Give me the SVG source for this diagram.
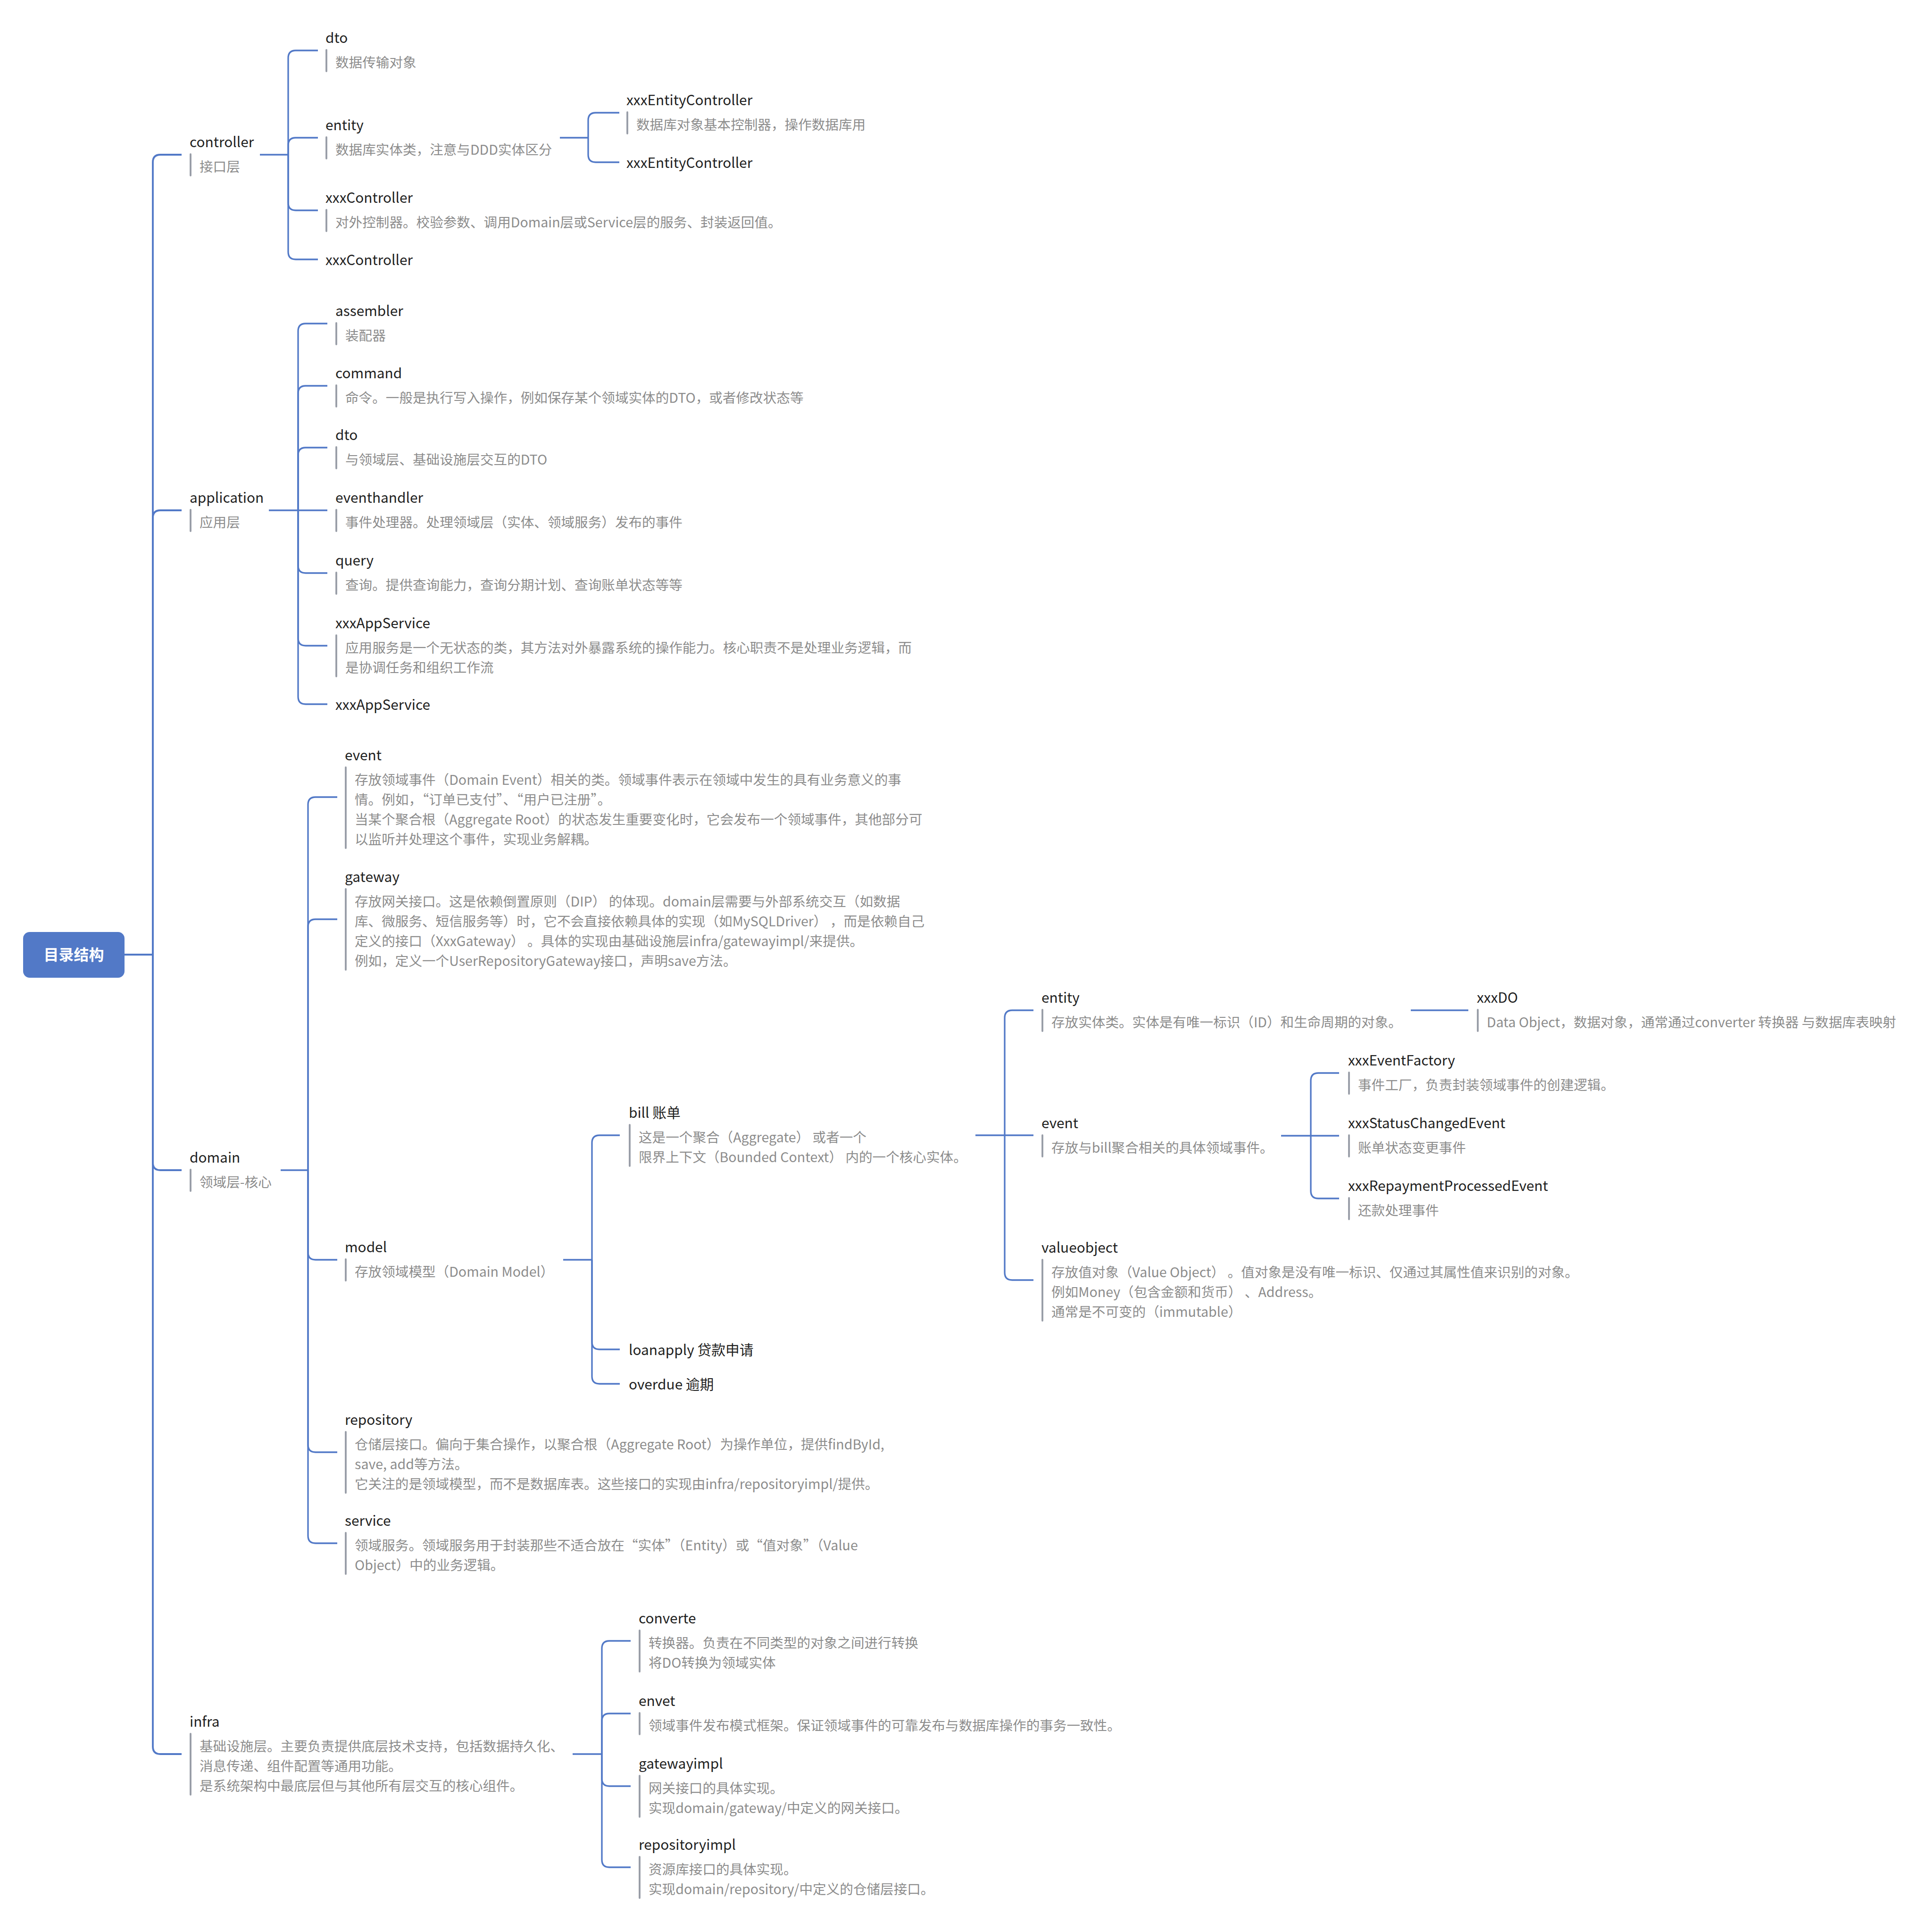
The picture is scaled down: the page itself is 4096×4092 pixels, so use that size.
<svg xmlns="http://www.w3.org/2000/svg" width="4096" height="4092" viewBox="0 0 4096 4092">
<style>
text{font-family:"Noto Sans CJK SC","Noto Sans",sans-serif}
.t{font-size:29.8px;fill:#1f1f1f}
.n{font-size:28.6px;fill:#8c8c8c}
.bar{stroke:#979ca6;stroke-width:3.8;stroke-linecap:round}
.c{fill:none;stroke:#5279c7;stroke-width:3.3}
.c0{stroke-width:3.8}
.root-t{font-size:32px;font-weight:bold;fill:#ffffff}
</style>
<rect width="4096" height="4092" fill="#ffffff"/>
<g id="connectors">
<path class="c c0" d="M264,2024 H324"/>
<path class="c c0" d="M324,2024 V344 Q324,328 340,328 H385"/>
<path class="c c0" d="M324,2024 V1098 Q324,1082 340,1082 H385"/>
<path class="c c0" d="M324,2024 V2465 Q324,2481 340,2481 H385"/>
<path class="c c0" d="M324,2024 V3703 Q324,3719 340,3719 H385"/>
<path class="c" d="M551,328 H611"/>
<path class="c" d="M611,328 V123 Q611,107 627,107 H674"/>
<path class="c" d="M611,328 V308 Q611,292 627,292 H674"/>
<path class="c" d="M611,328 V430 Q611,446 627,446 H674"/>
<path class="c" d="M611,328 V534 Q611,550 627,550 H674"/>
<path class="c" d="M1187,292 H1247"/>
<path class="c" d="M1247,292 V255 Q1247,239 1263,239 H1313"/>
<path class="c" d="M1247,292 V328 Q1247,344 1263,344 H1313"/>
<path class="c" d="M570,1082 H632"/>
<path class="c" d="M632,1082 V702 Q632,686 648,686 H694"/>
<path class="c" d="M632,1082 V834 Q632,818 648,818 H694"/>
<path class="c" d="M632,1082 V965 Q632,949 648,949 H694"/>
<path class="c" d="M632,1082 H694"/>
<path class="c" d="M632,1082 V1199 Q632,1215 648,1215 H694"/>
<path class="c" d="M632,1082 V1353 Q632,1369 648,1369 H694"/>
<path class="c" d="M632,1082 V1477 Q632,1493 648,1493 H694"/>
<path class="c" d="M595,2481 H653"/>
<path class="c" d="M653,2481 V1706 Q653,1690 669,1690 H715"/>
<path class="c" d="M653,2481 V1965 Q653,1949 669,1949 H715"/>
<path class="c" d="M653,2481 V2655 Q653,2671 669,2671 H715"/>
<path class="c" d="M653,2481 V3063 Q653,3079 669,3079 H715"/>
<path class="c" d="M653,2481 V3256 Q653,3272 669,3272 H715"/>
<path class="c" d="M1194,2671 H1255"/>
<path class="c" d="M1255,2671 V2423 Q1255,2407 1271,2407 H1314"/>
<path class="c" d="M1255,2671 V2845 Q1255,2861 1271,2861 H1314"/>
<path class="c" d="M1255,2671 V2918 Q1255,2934 1271,2934 H1314"/>
<path class="c" d="M2068,2407 H2130"/>
<path class="c" d="M2130,2407 V2158 Q2130,2142 2146,2142 H2191"/>
<path class="c" d="M2130,2407 H2191"/>
<path class="c" d="M2130,2407 V2698 Q2130,2714 2146,2714 H2191"/>
<path class="c" d="M2991,2142 H3113"/>
<path class="c" d="M2716,2408 H2779"/>
<path class="c" d="M2779,2408 V2291 Q2779,2275 2795,2275 H2839"/>
<path class="c" d="M2779,2408 H2839"/>
<path class="c" d="M2779,2408 V2525 Q2779,2541 2795,2541 H2839"/>
<path class="c" d="M1214,3719 H1276"/>
<path class="c" d="M1276,3719 V3495 Q1276,3479 1292,3479 H1337"/>
<path class="c" d="M1276,3719 V3649 Q1276,3633 1292,3633 H1337"/>
<path class="c" d="M1276,3719 V3771 Q1276,3787 1292,3787 H1337"/>
<path class="c" d="M1276,3719 V3943 Q1276,3959 1292,3959 H1337"/>
</g>
<g id="root">
<rect x="49" y="1976" width="215" height="97" rx="14" fill="#5279c7"/>
<text class="root-t" x="156.5" y="2036" text-anchor="middle">目录结构</text>
</g>
<g id="controller">
<text class="t" x="402" y="312">controller</text>
<line class="bar" x1="404" y1="327" x2="404" y2="372"/>
<text class="n" x="423" y="364">接口层</text>
</g>
<g id="controller-dto">
<text class="t" x="690" y="91">dto</text>
<line class="bar" x1="692" y1="106" x2="692" y2="151"/>
<text class="n" x="711" y="143">数据传输对象</text>
</g>
<g id="controller-entity">
<text class="t" x="690" y="276">entity</text>
<line class="bar" x1="692" y1="291" x2="692" y2="336"/>
<text class="n" x="711" y="328">数据库实体类，注意与DDD实体区分</text>
</g>
<g id="xxxEntityController-1">
<text class="t" x="1328" y="223">xxxEntityController</text>
<line class="bar" x1="1330" y1="238" x2="1330" y2="283"/>
<text class="n" x="1349" y="275">数据库对象基本控制器，操作数据库用</text>
</g>
<g id="xxxEntityController-2">
<text class="t" x="1328" y="356">xxxEntityController</text>
</g>
<g id="xxxController-1">
<text class="t" x="690" y="430">xxxController</text>
<line class="bar" x1="692" y1="445" x2="692" y2="490"/>
<text class="n" x="711" y="482">对外控制器。校验参数、调用Domain层或Service层的服务、封装返回值。</text>
</g>
<g id="xxxController-2">
<text class="t" x="690" y="562">xxxController</text>
</g>
<g id="application">
<text class="t" x="402" y="1066">application</text>
<line class="bar" x1="404" y1="1081" x2="404" y2="1126"/>
<text class="n" x="423" y="1118">应用层</text>
</g>
<g id="assembler">
<text class="t" x="711" y="670">assembler</text>
<line class="bar" x1="713" y1="685" x2="713" y2="730"/>
<text class="n" x="732" y="722">装配器</text>
</g>
<g id="command">
<text class="t" x="711" y="802">command</text>
<line class="bar" x1="713" y1="817" x2="713" y2="862"/>
<text class="n" x="732" y="854">命令。一般是执行写入操作，例如保存某个领域实体的DTO，或者修改状态等</text>
</g>
<g id="application-dto">
<text class="t" x="711" y="933">dto</text>
<line class="bar" x1="713" y1="948" x2="713" y2="993"/>
<text class="n" x="732" y="985">与领域层、基础设施层交互的DTO</text>
</g>
<g id="eventhandler">
<text class="t" x="711" y="1066">eventhandler</text>
<line class="bar" x1="713" y1="1081" x2="713" y2="1126"/>
<text class="n" x="732" y="1118">事件处理器。处理领域层（实体、领域服务）发布的事件</text>
</g>
<g id="query">
<text class="t" x="711" y="1199">query</text>
<line class="bar" x1="713" y1="1214" x2="713" y2="1259"/>
<text class="n" x="732" y="1251">查询。提供查询能力，查询分期计划、查询账单状态等等</text>
</g>
<g id="xxxAppService-1">
<text class="t" x="711" y="1332">xxxAppService</text>
<line class="bar" x1="713" y1="1347" x2="713" y2="1434"/>
<text class="n" x="732" y="1384">应用服务是一个无状态的类，其方法对外暴露系统的操作能力。核心职责不是处理业务逻辑，而</text>
<text class="n" x="732" y="1426">是协调任务和组织工作流</text>
</g>
<g id="xxxAppService-2">
<text class="t" x="711" y="1505">xxxAppService</text>
</g>
<g id="domain">
<text class="t" x="402" y="2465">domain</text>
<line class="bar" x1="404" y1="2480" x2="404" y2="2525"/>
<text class="n" x="423" y="2517">领域层-核心</text>
</g>
<g id="domain-event">
<text class="t" x="731" y="1612">event</text>
<line class="bar" x1="733" y1="1627" x2="733" y2="1798"/>
<text class="n" x="752" y="1664">存放领域事件（Domain Event）相关的类。领域事件表示在领域中发生的具有业务意义的事</text>
<text class="n" x="752" y="1706">情。例如，“订单已支付”、“用户已注册”。</text>
<text class="n" x="752" y="1748">当某个聚合根（Aggregate Root）的状态发生重要变化时，它会发布一个领域事件，其他部分可</text>
<text class="n" x="752" y="1790">以监听并处理这个事件，实现业务解耦。</text>
</g>
<g id="gateway">
<text class="t" x="731" y="1870">gateway</text>
<line class="bar" x1="733" y1="1885" x2="733" y2="2056"/>
<text class="n" x="752" y="1922">存放网关接口。这是依赖倒置原则（DIP） 的体现。domain层需要与外部系统交互（如数据</text>
<text class="n" x="752" y="1964">库、微服务、短信服务等）时，它不会直接依赖具体的实现（如MySQLDriver） ，而是依赖自己</text>
<text class="n" x="752" y="2006">定义的接口（XxxGateway） 。具体的实现由基础设施层infra/gatewayimpl/来提供。</text>
<text class="n" x="752" y="2048">例如，定义一个UserRepositoryGateway接口，声明save方法。</text>
</g>
<g id="model">
<text class="t" x="731" y="2655">model</text>
<line class="bar" x1="733" y1="2670" x2="733" y2="2715"/>
<text class="n" x="752" y="2707">存放领域模型（Domain Model）</text>
</g>
<g id="bill">
<text class="t" x="1333" y="2370">bill 账单</text>
<line class="bar" x1="1335" y1="2385" x2="1335" y2="2472"/>
<text class="n" x="1354" y="2422">这是一个聚合（Aggregate） 或者一个</text>
<text class="n" x="1354" y="2464">限界上下文（Bounded Context） 内的一个核心实体。</text>
</g>
<g id="bill-entity">
<text class="t" x="2208" y="2126">entity</text>
<line class="bar" x1="2210" y1="2141" x2="2210" y2="2186"/>
<text class="n" x="2229" y="2178">存放实体类。实体是有唯一标识（ID）和生命周期的对象。</text>
</g>
<g id="xxxDO">
<text class="t" x="3131" y="2126">xxxDO</text>
<line class="bar" x1="3133" y1="2141" x2="3133" y2="2186"/>
<text class="n" x="3152" y="2178">Data Object，数据对象，通常通过converter 转换器 与数据库表映射</text>
</g>
<g id="bill-event">
<text class="t" x="2208" y="2392">event</text>
<line class="bar" x1="2210" y1="2407" x2="2210" y2="2452"/>
<text class="n" x="2229" y="2444">存放与bill聚合相关的具体领域事件。</text>
</g>
<g id="xxxEventFactory">
<text class="t" x="2858" y="2259">xxxEventFactory</text>
<line class="bar" x1="2860" y1="2274" x2="2860" y2="2319"/>
<text class="n" x="2879" y="2311">事件工厂，负责封装领域事件的创建逻辑。</text>
</g>
<g id="xxxStatusChangedEvent">
<text class="t" x="2858" y="2392">xxxStatusChangedEvent</text>
<line class="bar" x1="2860" y1="2407" x2="2860" y2="2452"/>
<text class="n" x="2879" y="2444">账单状态变更事件</text>
</g>
<g id="xxxRepaymentProcessedEvent">
<text class="t" x="2858" y="2525">xxxRepaymentProcessedEvent</text>
<line class="bar" x1="2860" y1="2540" x2="2860" y2="2585"/>
<text class="n" x="2879" y="2577">还款处理事件</text>
</g>
<g id="valueobject">
<text class="t" x="2208" y="2656">valueobject</text>
<line class="bar" x1="2210" y1="2671" x2="2210" y2="2800"/>
<text class="n" x="2229" y="2708">存放值对象（Value Object） 。值对象是没有唯一标识、仅通过其属性值来识别的对象。</text>
<text class="n" x="2229" y="2750">例如Money（包含金额和货币） 、Address。</text>
<text class="n" x="2229" y="2792">通常是不可变的（immutable）</text>
</g>
<g id="loanapply">
<text class="t" x="1333" y="2873">loanapply 贷款申请</text>
</g>
<g id="overdue">
<text class="t" x="1333" y="2946">overdue 逾期</text>
</g>
<g id="repository">
<text class="t" x="731" y="3021">repository</text>
<line class="bar" x1="733" y1="3036" x2="733" y2="3165"/>
<text class="n" x="752" y="3073">仓储层接口。偏向于集合操作，以聚合根（Aggregate Root）为操作单位，提供findById,</text>
<text class="n" x="752" y="3115">save, add等方法。</text>
<text class="n" x="752" y="3157">它关注的是领域模型，而不是数据库表。这些接口的实现由infra/repositoryimpl/提供。</text>
</g>
<g id="service">
<text class="t" x="731" y="3235">service</text>
<line class="bar" x1="733" y1="3250" x2="733" y2="3337"/>
<text class="n" x="752" y="3287">领域服务。领域服务用于封装那些不适合放在“实体”（Entity）或“值对象”（Value</text>
<text class="n" x="752" y="3329">Object）中的业务逻辑。</text>
</g>
<g id="infra">
<text class="t" x="402" y="3661">infra</text>
<line class="bar" x1="404" y1="3676" x2="404" y2="3805"/>
<text class="n" x="423" y="3713">基础设施层。主要负责提供底层技术支持，包括数据持久化、</text>
<text class="n" x="423" y="3755">消息传递、组件配置等通用功能。</text>
<text class="n" x="423" y="3797">是系统架构中最底层但与其他所有层交互的核心组件。</text>
</g>
<g id="converte">
<text class="t" x="1354" y="3442">converte</text>
<line class="bar" x1="1356" y1="3457" x2="1356" y2="3544"/>
<text class="n" x="1375" y="3494">转换器。负责在不同类型的对象之间进行转换</text>
<text class="n" x="1375" y="3536">将DO转换为领域实体</text>
</g>
<g id="envet">
<text class="t" x="1354" y="3617">envet</text>
<line class="bar" x1="1356" y1="3632" x2="1356" y2="3677"/>
<text class="n" x="1375" y="3669">领域事件发布模式框架。保证领域事件的可靠发布与数据库操作的事务一致性。</text>
</g>
<g id="gatewayimpl">
<text class="t" x="1354" y="3750">gatewayimpl</text>
<line class="bar" x1="1356" y1="3765" x2="1356" y2="3852"/>
<text class="n" x="1375" y="3802">网关接口的具体实现。</text>
<text class="n" x="1375" y="3844">实现domain/gateway/中定义的网关接口。</text>
</g>
<g id="repositoryimpl">
<text class="t" x="1354" y="3922">repositoryimpl</text>
<line class="bar" x1="1356" y1="3937" x2="1356" y2="4024"/>
<text class="n" x="1375" y="3974">资源库接口的具体实现。</text>
<text class="n" x="1375" y="4016">实现domain/repository/中定义的仓储层接口。</text>
</g>
</svg>
